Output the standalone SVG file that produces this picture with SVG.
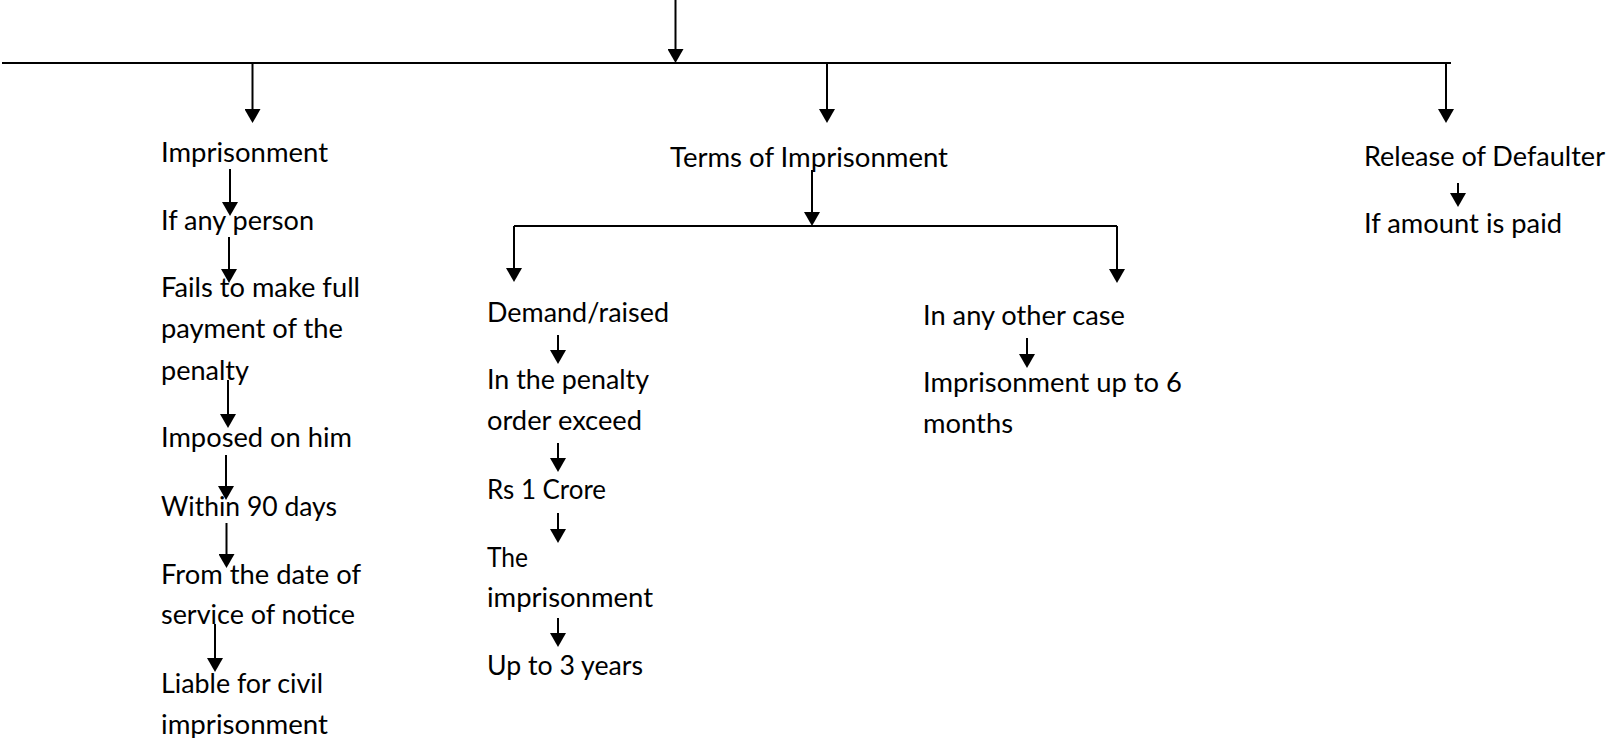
<svg xmlns="http://www.w3.org/2000/svg" width="1609" height="738" viewBox="0 0 1609 738">
  <style>
    .lbl { font-family: Lato, "Open Sans", "Noto Sans", sans-serif; font-size: 27px; fill: #000; }
    .wire { stroke: #000; stroke-width: 2; fill: none; }
    .arr { stroke: #000; stroke-width: 2; fill: none; marker-end: url(#head); }
  </style>
  <defs>
    <marker id="head" viewBox="0 0 14 16" refX="8" refY="8" markerWidth="14" markerHeight="16" markerUnits="userSpaceOnUse" orient="auto">
      <path d="M0,0 L14,8 L0,16 z" fill="#000"/>
    </marker>
  </defs>
  <rect width="1609" height="738" fill="#fff"/>

  <!-- connectors -->
  <g id="connectors">
    <line class="arr" x1="675.5" y1="0" x2="675.5" y2="57"/>
    <line class="wire" x1="2" y1="63" x2="1451" y2="63"/>
    <line class="arr" x1="252.5" y1="63" x2="252.5" y2="117"/>
    <line class="arr" x1="827" y1="63" x2="827" y2="117"/>
    <line class="arr" x1="1446" y1="63" x2="1446" y2="117"/>

    <line class="arr" x1="230" y1="169" x2="230" y2="210"/>
    <line class="arr" x1="229" y1="237" x2="229" y2="277"/>
    <line class="arr" x1="228" y1="380" x2="228" y2="422"/>
    <line class="arr" x1="226" y1="455" x2="226" y2="494"/>
    <line class="arr" x1="226.5" y1="523" x2="226.5" y2="562"/>
    <line class="arr" x1="215" y1="624" x2="215" y2="666"/>

    <line class="arr" x1="812" y1="170" x2="812" y2="220"/>
    <line class="wire" x1="514" y1="226" x2="1117" y2="226"/>
    <line class="arr" x1="514" y1="226" x2="514" y2="276"/>
    <line class="arr" x1="1117" y1="226" x2="1117" y2="277"/>

    <line class="arr" x1="558" y1="335" x2="558" y2="358"/>
    <line class="arr" x1="558" y1="443" x2="558" y2="466"/>
    <line class="arr" x1="558" y1="513" x2="558" y2="537"/>
    <line class="arr" x1="558" y1="618" x2="558" y2="641"/>

    <line class="arr" x1="1027" y1="338" x2="1027" y2="362"/>
    <line class="arr" x1="1458" y1="183" x2="1458" y2="201"/>
  </g>

  <!-- left branch -->
  <g id="n-imprisonment"><text class="lbl" x="161" y="162" textLength="167" lengthAdjust="spacingAndGlyphs">Imprisonment</text></g>
  <g id="n-any-person"><text class="lbl" x="161" y="230" textLength="153" lengthAdjust="spacingAndGlyphs">If any person</text></g>
  <g id="n-fails">
    <text class="lbl" x="161" y="297" textLength="199" lengthAdjust="spacingAndGlyphs">Fails to make full</text>
    <text class="lbl" x="161" y="338" textLength="182" lengthAdjust="spacingAndGlyphs">payment of the</text>
    <text class="lbl" x="161" y="380" textLength="88" lengthAdjust="spacingAndGlyphs">penalty</text>
  </g>
  <g id="n-imposed"><text class="lbl" x="161" y="447" textLength="191" lengthAdjust="spacingAndGlyphs">Imposed on him</text></g>
  <g id="n-within"><text class="lbl" x="161" y="516" textLength="176" lengthAdjust="spacingAndGlyphs">Within 90 days</text></g>
  <g id="n-from-date">
    <text class="lbl" x="161" y="584" textLength="200" lengthAdjust="spacingAndGlyphs">From the date of</text>
    <text class="lbl" x="161" y="624" textLength="194" lengthAdjust="spacingAndGlyphs">service of notice</text>
  </g>
  <g id="n-liable">
    <text class="lbl" x="161" y="693" textLength="162" lengthAdjust="spacingAndGlyphs">Liable for civil</text>
    <text class="lbl" x="161" y="734" textLength="167" lengthAdjust="spacingAndGlyphs">imprisonment</text>
  </g>

  <!-- middle branch -->
  <g id="n-terms"><text class="lbl" x="670" y="167" textLength="278" lengthAdjust="spacingAndGlyphs">Terms of Imprisonment</text></g>
  <g id="n-demand"><text class="lbl" x="487" y="322" textLength="182" lengthAdjust="spacingAndGlyphs">Demand/raised</text></g>
  <g id="n-penalty-order">
    <text class="lbl" x="487" y="389" textLength="162" lengthAdjust="spacingAndGlyphs">In the penalty</text>
    <text class="lbl" x="487" y="430" textLength="155" lengthAdjust="spacingAndGlyphs">order exceed</text>
  </g>
  <g id="n-crore"><text class="lbl" x="487" y="499" textLength="119" lengthAdjust="spacingAndGlyphs">Rs 1 Crore</text></g>
  <g id="n-the-imprisonment">
    <text class="lbl" x="487" y="567" textLength="41" lengthAdjust="spacingAndGlyphs">The</text>
    <text class="lbl" x="487" y="607" textLength="166" lengthAdjust="spacingAndGlyphs">imprisonment</text>
  </g>
  <g id="n-three-years"><text class="lbl" x="487" y="675" textLength="156" lengthAdjust="spacingAndGlyphs">Up to 3 years</text></g>
  <g id="n-other-case"><text class="lbl" x="923" y="325" textLength="202" lengthAdjust="spacingAndGlyphs">In any other case</text></g>
  <g id="n-six-months">
    <text class="lbl" x="923" y="392" textLength="259" lengthAdjust="spacingAndGlyphs">Imprisonment up to 6</text>
    <text class="lbl" x="923" y="433" textLength="90" lengthAdjust="spacingAndGlyphs">months</text>
  </g>

  <!-- right branch -->
  <g id="n-release"><text class="lbl" x="1364" y="166" textLength="241" lengthAdjust="spacingAndGlyphs">Release of Defaulter</text></g>
  <g id="n-paid"><text class="lbl" x="1364" y="233" textLength="198" lengthAdjust="spacingAndGlyphs">If amount is paid</text></g>
</svg>
